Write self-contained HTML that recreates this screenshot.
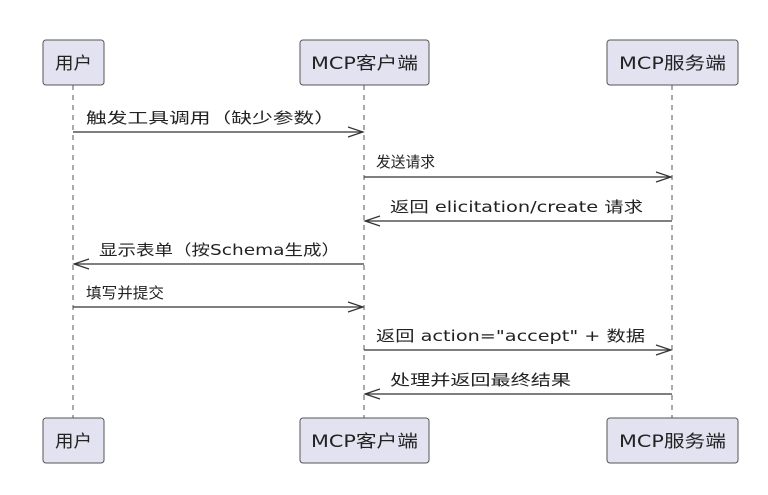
<!DOCTYPE html>
<html><head><meta charset="utf-8"><style>body{margin:0;background:#fff}</style></head><body>
<svg width="768" height="490" xmlns="http://www.w3.org/2000/svg" font-family="'DejaVu Sans','Noto Sans CJK SC',sans-serif" font-size="15">
<g stroke="#555" stroke-dasharray="5,5" stroke-width="1">
<line x1="73" y1="85" x2="73" y2="418"/><line x1="364" y1="85" x2="364" y2="418"/><line x1="672" y1="85" x2="672" y2="418"/>
</g>
<g fill="#e2e2f0" stroke="#555" stroke-width="1">
<rect x="43" y="40" width="61" height="45" rx="3"/><rect x="300" y="40" width="129" height="45" rx="3"/><rect x="607" y="40" width="131" height="45" rx="3"/>
<rect x="43" y="418" width="61" height="45" rx="3"/><rect x="300" y="418" width="129" height="45" rx="3"/><rect x="607" y="418" width="131" height="45" rx="3"/>
</g>
<g font-size="17" fill="#222">
<text x="55" y="69" textLength="37" lengthAdjust="spacingAndGlyphs">用户</text>
<text x="311" y="69" textLength="107" lengthAdjust="spacingAndGlyphs">MCP客户端</text>
<text x="619" y="69" textLength="107" lengthAdjust="spacingAndGlyphs">MCP服务端</text>
<text x="55" y="447" textLength="37" lengthAdjust="spacingAndGlyphs">用户</text>
<text x="311" y="447" textLength="107" lengthAdjust="spacingAndGlyphs">MCP客户端</text>
<text x="619" y="447" textLength="107" lengthAdjust="spacingAndGlyphs">MCP服务端</text>
</g>
<g stroke="#333" stroke-width="1.2" fill="none">
<line x1="73" y1="132" x2="363" y2="132"/><polyline points="348,127 363,132 348,137"/>
<line x1="364" y1="177" x2="671" y2="177"/><polyline points="656,172 671,177 656,182"/>
<line x1="365" y1="221" x2="672" y2="221"/><polyline points="380,216 365,221 380,226"/>
<line x1="74" y1="264" x2="364" y2="264"/><polyline points="89,259 74,264 89,269"/>
<line x1="73" y1="307" x2="363" y2="307"/><polyline points="348,302 363,307 348,312"/>
<line x1="364" y1="350" x2="671" y2="350"/><polyline points="656,345 671,350 656,355"/>
<line x1="365" y1="394" x2="672" y2="394"/><polyline points="380,389 365,394 380,399"/>
</g>
<g fill="#222">
<text x="86" y="123" textLength="249" lengthAdjust="spacingAndGlyphs">触发工具调用（缺少参数）</text>
<text x="376" y="167" textLength="59" lengthAdjust="spacingAndGlyphs">发送请求</text>
<text x="390" y="212" textLength="253" lengthAdjust="spacingAndGlyphs">返回 elicitation/create 请求</text>
<text x="99" y="255" textLength="241" lengthAdjust="spacingAndGlyphs">显示表单（按Schema生成）</text>
<text x="86" y="298" textLength="78" lengthAdjust="spacingAndGlyphs">填写并提交</text>
<text x="376" y="341" textLength="269" lengthAdjust="spacingAndGlyphs">返回 action="accept" + 数据</text>
<text x="390" y="385" textLength="181" lengthAdjust="spacingAndGlyphs">处理并返回最终结果</text>
</g>
</svg>
</body></html>
